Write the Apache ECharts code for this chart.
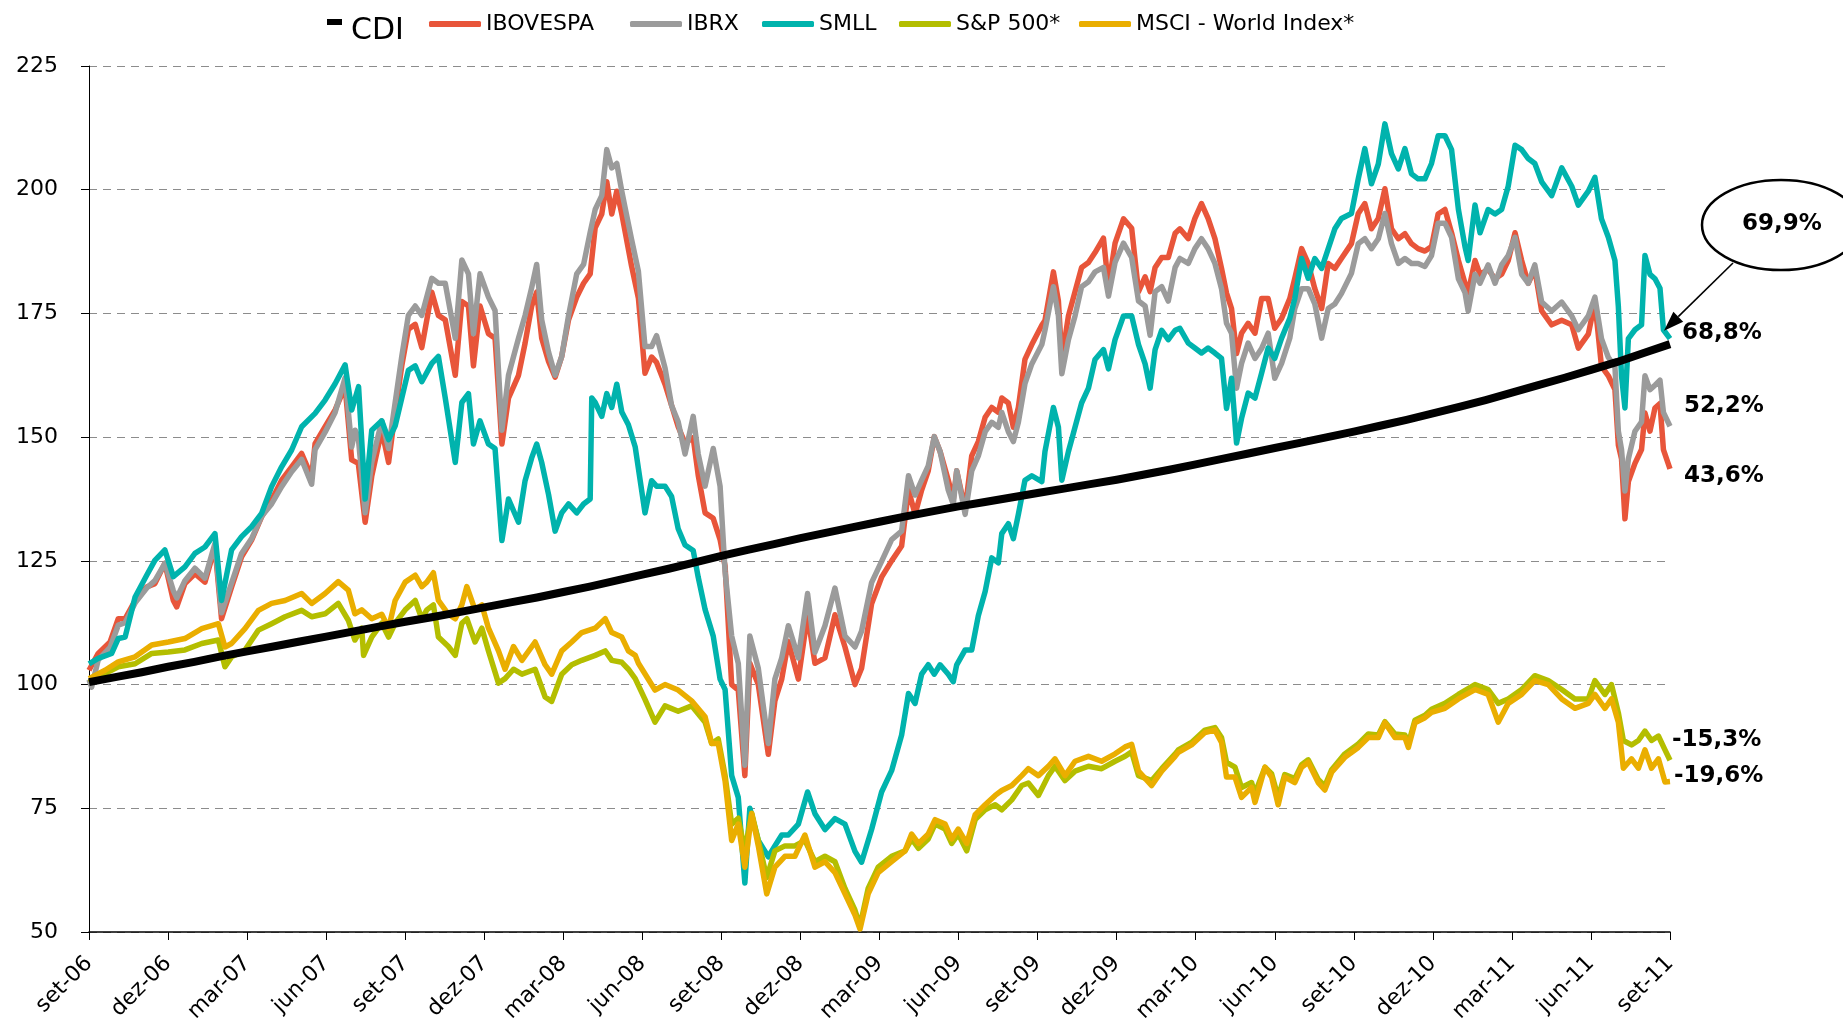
<!DOCTYPE html>
<html>
<head>
<meta charset="utf-8">
<title>CDI x Bolsas</title>
<script src="https://cdn.jsdelivr.net/npm/echarts@6/dist/echarts.min.js"></script>
<style>
  html, body { margin: 0; padding: 0; background: #fff; }
  #chart { width: 1843px; height: 1021px; }
</style>
</head>
<body>
<div id="chart"></div>
<script>
// rótulos do eixo x (um por trimestre)
const xLabels = ['set-06', 'dez-06', 'mar-07', 'jun-07', 'set-07', 'dez-07', 'mar-08', 'jun-08',
  'set-08', 'dez-08', 'mar-09', 'jun-09', 'set-09', 'dez-09', 'mar-10', 'jun-10',
  'set-10', 'dez-10', 'mar-11', 'jun-11', 'set-11'];

// CDI, um valor por mês desde set-06
const cdi = [100.5, 101.5, 102.5, 103.6, 104.6, 105.7, 106.7, 107.7, 108.7, 109.7,
  110.7, 111.7, 112.7, 113.6, 114.6, 115.6, 116.6, 117.6, 118.7, 119.8,
  121.0, 122.2, 123.4, 124.7, 126.0, 127.2, 128.4, 129.6, 130.7, 131.8,
  132.9, 134.0, 135.0, 136.0, 136.9, 137.8, 138.7, 139.6, 140.5, 141.4,
  142.4, 143.4, 144.5, 145.6, 146.7, 147.8, 148.9, 150.0, 151.1, 152.3,
  153.5, 154.8, 156.1, 157.5, 159.0, 160.5, 162.0, 163.6, 165.2, 167.0, 168.8];

// demais índices: [mês desde set-06, valor]
const ibovespa = [[0,102.9],[0.35,106.3],[0.8,108.6],[1.11,113.3],[1.37,113.3],[1.75,117],[2.19,119.7],[2.5,120.4],[2.88,124.5],[3.2,117],[3.33,115.7],[3.64,120.4],[4.02,122.4],[4.4,120.7],[4.78,127.8],[5.03,113.3],[5.41,119.7],[5.79,125.8],[6.17,129.2],[6.55,133.9],[6.93,137.3],[7.31,141.3],[7.69,144],[8.07,146.7],[8.45,142],[8.58,148.7],[8.96,152.1],[9.34,155.5],[9.72,160.2],[9.97,145.4],[10.22,144.7],[10.48,132.8],[10.73,142.1],[11.11,151.4],[11.37,144.9],[11.62,155.1],[11.87,164.4],[12.12,171.8],[12.38,172.8],[12.63,168.1],[13.01,179.3],[13.26,174.6],[13.52,173.7],[13.9,162.5],[14.15,177.4],[14.4,176.5],[14.59,164.4],[14.84,176.5],[15.16,170.9],[15.41,170],[15.67,148.6],[15.92,157.9],[16.3,162.5],[16.55,169],[16.8,176.5],[16.99,179.3],[17.18,170],[17.44,165.3],[17.69,162.1],[17.94,166.3],[18.2,173.7],[18.51,178.3],[18.77,181.1],[19.02,183],[19.21,192.3],[19.46,195.1],[19.65,201.6],[19.84,195.1],[20.03,199.7],[20.22,195.1],[20.59,184.6],[20.85,178.1],[21.1,162.9],[21.35,166.2],[21.54,165.1],[21.86,160.7],[22.11,156.4],[22.36,152.1],[22.62,148.8],[22.93,149.9],[23.12,142.3],[23.38,134.7],[23.69,133.6],[23.95,129.3],[24.14,123.9],[24.39,100],[24.64,98.9],[24.89,81.6],[25.08,104.3],[25.4,100],[25.78,85.9],[26.03,96.7],[26.29,101.1],[26.54,108.7],[26.92,101.1],[27.27,114.1],[27.55,104.3],[27.93,105.4],[28.31,114.1],[28.69,107.6],[29.07,100],[29.32,103.3],[29.7,116.3],[30.08,121.7],[30.46,125],[30.84,128],[31.1,139.3],[31.35,134.4],[31.6,139.3],[31.85,143.2],[32.08,150.1],[32.3,147.1],[32.61,141.3],[32.8,137.4],[32.93,143.2],[33.25,135.4],[33.5,146.2],[33.75,149.1],[34.01,154],[34.26,156],[34.51,155],[34.64,157.9],[34.89,156.9],[35.08,152],[35.27,156],[35.52,165.7],[35.78,168.7],[36.16,172.6],[36.28,173.6],[36.6,183.4],[36.79,177.5],[36.92,165.7],[37.17,174.5],[37.42,179.4],[37.67,184.3],[37.93,185.3],[38.18,187.3],[38.5,190.2],[38.69,180.4],[38.94,189.2],[39.26,194.1],[39.57,192.2],[39.83,179.4],[40.08,182.4],[40.27,179.4],[40.46,184.3],[40.71,186.3],[40.96,186.3],[41.22,191.2],[41.4,192.1],[41.72,190.1],[41.97,194.2],[42.22,197.2],[42.47,194.2],[42.73,190.1],[42.98,184.1],[43.17,179.1],[43.36,176],[43.55,166.9],[43.74,171],[43.99,173],[44.25,171],[44.5,178],[44.75,178],[45,172],[45.26,174],[45.57,178],[45.76,182.1],[46.02,188.1],[46.27,185.1],[46.52,180],[46.78,176],[47.03,185.1],[47.28,184.1],[47.53,186.1],[47.91,189.1],[48.17,195.2],[48.42,197.2],[48.67,192.1],[48.93,194.2],[49.18,200.2],[49.43,192.1],[49.69,190.1],[49.94,191.1],[50.19,189.1],[50.44,188.1],[50.7,187.6],[50.95,188.5],[51.2,195.1],[51.46,196],[51.71,191.3],[51.97,185.7],[52.22,181.1],[52.34,179.2],[52.6,185.7],[52.79,182.9],[53.1,183.9],[53.36,182],[53.61,182.9],[53.86,185.7],[54.12,191.3],[54.37,185.7],[54.62,181.1],[54.87,183.9],[55.13,175.5],[55.51,172.7],[55.89,173.6],[56.27,172.7],[56.52,168],[56.9,170.8],[57.15,177.3],[57.4,164.3],[57.66,162.4],[57.91,159.6],[58.04,148.4],[58.16,145.6],[58.29,133.5],[58.42,141],[58.67,144.7],[58.92,147.5],[59.05,154.9],[59.24,151.2],[59.43,155.9],[59.62,156.8],[59.75,147.5],[60,143.6]];

const ibrx = [[0,101],[0.1,99.5],[0.35,105],[0.8,107.5],[1.11,112],[1.37,112.5],[1.75,116.5],[2.19,119.5],[2.5,121],[2.88,124.5],[3.2,119],[3.33,117.5],[3.64,121],[4.02,123.5],[4.4,121.5],[4.78,128.5],[5.03,114.5],[5.41,120.5],[5.79,126.5],[6.17,129.5],[6.55,134],[6.93,136.5],[7.31,140],[7.69,143],[8.07,145.5],[8.45,140.5],[8.58,147.5],[8.96,151],[9.34,155],[9.72,162],[9.97,148],[10.1,151.4],[10.22,150],[10.48,134.7],[10.73,144.9],[11.11,153.3],[11.37,147.7],[11.62,157],[11.87,166.3],[12.12,174.6],[12.38,176.5],[12.63,174.6],[13.01,182.1],[13.26,181.1],[13.52,181.1],[13.9,170],[14.15,185.8],[14.4,183],[14.59,170.9],[14.84,183],[15.16,178.3],[15.41,175.6],[15.67,151.4],[15.92,162.5],[16.3,170],[16.55,174.6],[16.8,180.2],[16.99,184.9],[17.18,173.7],[17.44,167.2],[17.69,162.5],[17.94,166.3],[18.2,174.6],[18.51,183],[18.77,184.9],[19.02,191.4],[19.21,196],[19.46,198.8],[19.65,208.1],[19.84,204.4],[20.03,205.3],[20.22,199.7],[20.34,196.5],[20.59,190],[20.85,183.5],[21.1,168.3],[21.35,168.3],[21.54,170.5],[21.86,164],[22.11,156.4],[22.36,153.1],[22.62,146.6],[22.93,154.2],[23.12,146.6],[23.38,140.1],[23.69,147.7],[23.95,140.1],[24.14,122.8],[24.39,109.8],[24.64,104.3],[24.89,83.7],[25.08,109.8],[25.4,103.3],[25.78,88.1],[26.03,101.1],[26.29,105.4],[26.54,111.9],[26.92,105.4],[27.27,118.4],[27.55,106.5],[27.93,111.9],[28.31,119.5],[28.69,109.8],[29.07,107.6],[29.32,110.8],[29.7,120.6],[30.08,124.9],[30.46,129.3],[30.84,131],[31.1,142.2],[31.35,138.3],[31.6,141.3],[31.85,144.2],[32.08,150.1],[32.3,147.1],[32.61,139.3],[32.8,136.4],[32.93,143.2],[33.25,134.4],[33.5,143.2],[33.75,146.2],[34.01,151.1],[34.26,153],[34.51,152],[34.64,155],[34.89,151.1],[35.08,149.1],[35.27,153],[35.52,160.8],[35.78,164.8],[36.16,168.7],[36.28,171.6],[36.6,180.4],[36.79,174.5],[36.92,162.8],[37.17,169.7],[37.42,174.5],[37.67,180.4],[37.93,181.4],[38.18,183.4],[38.5,184.3],[38.69,178.5],[38.94,185.3],[39.26,189.2],[39.57,186.3],[39.83,177.5],[40.08,176.5],[40.27,170.6],[40.46,179.4],[40.71,180.4],[40.96,177.5],[41.22,184.3],[41.4,186.1],[41.72,185.1],[41.97,188.1],[42.22,190.1],[42.47,188.1],[42.73,185.1],[42.98,180],[43.17,173],[43.36,171],[43.55,159.9],[43.74,164.9],[43.99,169],[44.25,165.9],[44.5,167.9],[44.75,171],[45,161.9],[45.26,164.9],[45.57,170],[45.76,176],[46.02,180],[46.27,180],[46.52,176.9],[46.78,170],[47.03,176],[47.28,176.9],[47.53,179],[47.91,183.1],[48.17,189.1],[48.42,190.1],[48.67,188.1],[48.93,190.1],[49.18,195.2],[49.43,189.1],[49.69,185.1],[49.94,186.1],[50.19,185.1],[50.44,185.1],[50.7,184.5],[50.95,186.7],[51.2,193.2],[51.46,193.2],[51.71,190.4],[51.97,182],[52.22,179.2],[52.34,175.5],[52.6,182.9],[52.79,181.1],[53.1,184.8],[53.36,181.1],[53.61,184.8],[53.86,186.7],[54.12,190.4],[54.37,182.9],[54.62,181.1],[54.87,184.8],[55.13,177.3],[55.51,175.5],[55.89,177.3],[56.27,174.5],[56.52,171.7],[56.9,174.5],[57.15,178.3],[57.4,169.9],[57.66,166.1],[57.91,164.3],[58.04,151.2],[58.16,147.5],[58.29,139.1],[58.42,145.6],[58.67,151.2],[58.92,153.1],[59.05,162.4],[59.24,159.6],[59.43,160.5],[59.62,161.5],[59.75,155],[60,152.2]];

const smll = [[0,104.2],[0.35,105.3],[0.86,106.3],[1.11,109.3],[1.37,109.6],[1.75,117.7],[2.19,122.1],[2.5,125.1],[2.88,127.2],[3.2,121.8],[3.64,123.8],[4.02,126.5],[4.4,127.8],[4.78,130.5],[5.03,117],[5.41,127.2],[5.79,129.9],[6.17,131.9],[6.55,134.6],[6.93,140],[7.31,144],[7.69,147.4],[8.07,152.1],[8.58,154.8],[8.96,157.5],[9.34,160.8],[9.72,164.6],[9.97,155.5],[10.23,160.2],[10.48,137.5],[10.73,151.4],[11.11,153.3],[11.37,149.5],[11.62,152.3],[11.87,157.9],[12.12,163.5],[12.38,164.4],[12.63,161.2],[13.01,164.9],[13.26,166.3],[13.52,157.9],[13.9,144.9],[14.15,157],[14.4,158.8],[14.59,148.6],[14.84,153.3],[15.16,148.6],[15.41,147.7],[15.67,129.1],[15.92,137.5],[16.3,132.8],[16.55,141.2],[16.8,145.8],[16.99,148.6],[17.18,144.9],[17.44,138.4],[17.69,131],[17.94,134.7],[18.2,136.5],[18.51,134.7],[18.77,136.5],[19.02,137.5],[19.08,157.9],[19.21,157],[19.46,154.2],[19.65,158.8],[19.84,156],[20.03,160.7],[20.22,155.1],[20.47,152.5],[20.73,148],[21.1,134.7],[21.35,141.2],[21.54,140.1],[21.86,140.1],[22.11,138],[22.36,131.5],[22.62,128.2],[22.93,127.1],[23.12,121.7],[23.38,115.2],[23.69,109.8],[23.95,101.1],[24.14,99],[24.39,81.6],[24.64,77.2],[24.89,59.9],[25.08,75],[25.4,68.5],[25.78,65.2],[26.03,67.4],[26.29,69.6],[26.54,69.6],[26.92,71.8],[27.27,78.3],[27.55,73.9],[27.93,70.7],[28.31,72.9],[28.69,71.8],[29.07,66.3],[29.32,64.1],[29.7,70.7],[30.08,78.3],[30.46,82.6],[30.84,89.8],[31.1,98.2],[31.35,96.2],[31.6,102.1],[31.85,104],[32.08,102.1],[32.3,104],[32.61,102.1],[32.8,100.6],[32.93,104],[33.25,107],[33.5,107],[33.75,113.9],[34.01,118.8],[34.26,125.6],[34.51,124.6],[34.64,130.5],[34.89,132.5],[35.08,129.5],[35.27,134.4],[35.52,141.3],[35.78,142.2],[36.16,141],[36.28,147.1],[36.6,156],[36.79,152],[36.92,141.3],[37.17,147.1],[37.42,152],[37.67,156.9],[37.93,159.9],[38.18,165.7],[38.5,167.7],[38.69,163.8],[38.94,169.7],[39.26,174.5],[39.57,174.5],[39.83,168.7],[40.08,164.8],[40.27,159.9],[40.46,167.7],[40.71,171.6],[40.96,169.7],[41.22,171.6],[41.4,172],[41.72,169],[41.97,168],[42.22,167],[42.47,168],[42.73,167],[42.98,165.9],[43.17,155.8],[43.36,161.9],[43.55,148.8],[43.74,153.8],[43.99,158.9],[44.25,157.9],[44.5,162.9],[44.75,168],[45,165.9],[45.26,170],[45.57,174],[45.76,178],[46.02,186.1],[46.27,182.1],[46.52,186.1],[46.78,184.1],[47.03,188.1],[47.28,192.1],[47.53,194.2],[47.91,195.2],[48.17,202.2],[48.42,208.3],[48.67,201.2],[48.93,205.2],[49.18,213.3],[49.43,207.3],[49.69,204.2],[49.94,208.3],[50.19,203.2],[50.44,202.2],[50.7,202.2],[50.95,205.3],[51.2,210.9],[51.46,210.9],[51.71,208.1],[51.97,196],[52.22,188.5],[52.34,185.7],[52.6,196.9],[52.79,191.3],[53.1,196],[53.36,195.1],[53.61,196],[53.86,200.7],[54.12,209],[54.37,208.1],[54.62,206.3],[54.87,205.3],[55.13,201.6],[55.51,198.8],[55.89,204.4],[56.27,200.7],[56.52,196.9],[56.9,199.7],[57.15,202.5],[57.4,194.1],[57.66,190.4],[57.91,185.7],[58.04,176.4],[58.16,162.4],[58.29,155.9],[58.42,169.9],[58.67,171.7],[58.92,172.7],[59.05,186.7],[59.24,182.9],[59.43,182],[59.62,180.1],[59.75,171.7],[60,169.9]];

const sp500 = [[0,100.5],[0.61,102.2],[1.11,103.6],[1.75,104.2],[2.38,106.3],[3.01,106.6],[3.64,107],[4.28,108.3],[4.91,109],[5.16,103.6],[5.41,105.6],[5.92,107],[6.43,111],[6.93,112.3],[7.44,113.7],[8.07,115],[8.45,113.7],[8.96,114.3],[9.46,116.4],[9.84,113],[10.09,109],[10.35,111.4],[10.42,105.9],[10.73,109.6],[11.11,112.4],[11.37,109.6],[11.62,112.4],[12,115.1],[12.38,117],[12.63,113.3],[12.82,115.1],[13.07,116.1],[13.26,109.6],[13.64,107.7],[13.9,105.9],[14.15,112.4],[14.34,113.3],[14.65,108.6],[14.91,111.4],[15.16,106.8],[15.54,100.3],[15.79,101.2],[16.11,103.1],[16.43,102.1],[16.93,103.1],[17.31,97.5],[17.56,96.6],[17.94,102.1],[18.32,104],[18.7,104.9],[19.21,105.9],[19.59,106.8],[19.84,104.9],[20.22,104.5],[20.47,103.1],[20.73,101.2],[21.1,97],[21.48,92.4],[21.86,95.7],[22.36,94.6],[22.87,95.7],[23.38,92.4],[23.63,88.1],[23.88,89],[24.14,81.6],[24.39,71.8],[24.64,73],[24.89,66.4],[25.15,74],[25.4,68.5],[25.72,61],[26.03,66.4],[26.41,67.4],[26.79,67.4],[27.17,68.5],[27.55,64.2],[27.93,65.3],[28.31,64.2],[28.69,58.8],[29.07,54.4],[29.26,51.2],[29.57,58.8],[29.95,63.1],[30.46,65.3],[30.97,66.4],[31.22,68.8],[31.48,66.9],[31.85,68.8],[32.11,71.8],[32.49,70.8],[32.74,67.9],[32.99,69.8],[33.31,66.4],[33.63,72.7],[34.01,74.7],[34.39,75.7],[34.64,74.7],[35.02,76.7],[35.4,79.6],[35.65,80.1],[36.03,77.6],[36.41,81.6],[36.66,83.5],[37.04,80.6],[37.42,82.5],[37.93,83.5],[38.43,83],[38.94,84.5],[39.32,85.5],[39.57,86.4],[39.83,81.6],[40.33,80.6],[40.71,83],[41.22,86],[41.34,86.8],[41.84,88.3],[42.35,90.8],[42.73,91.3],[42.98,89.3],[43.17,84.3],[43.49,83.3],[43.74,79.2],[44.12,80.2],[44.25,78],[44.63,83.3],[44.88,82],[45.13,77.2],[45.38,81.8],[45.76,81],[46.02,83.8],[46.27,84.8],[46.65,80.8],[46.9,79.5],[47.16,82.8],[47.66,86],[48.17,88],[48.55,90],[48.93,89.8],[49.18,92.5],[49.56,90],[49.94,89.8],[50.07,88],[50.32,92.8],[50.7,93.8],[50.95,95],[51.46,96.2],[51.97,98],[52.6,100],[53.1,99],[53.48,96.2],[53.86,97.1],[54.37,99],[54.87,101.8],[55.38,100.8],[55.89,99],[56.39,97.1],[56.9,97.1],[57.15,100.8],[57.53,98],[57.78,100],[58.04,94.3],[58.23,88.7],[58.54,87.8],[58.8,88.7],[59.05,90.6],[59.3,88.7],[59.56,89.6],[59.81,86.8],[60,84.7]];

const msci = [[0,101.2],[0.61,102.9],[1.11,104.6],[1.75,105.6],[2.38,108],[3.01,108.6],[3.64,109.3],[4.28,111.3],[4.91,112.3],[5.16,107.6],[5.41,108.3],[5.92,111.3],[6.43,115],[6.93,116.4],[7.44,117],[8.07,118.4],[8.45,116.4],[8.96,118.4],[9.46,120.8],[9.84,119.1],[10.09,114.3],[10.35,115.1],[10.73,113.3],[11.11,114.2],[11.37,111.4],[11.62,117],[12,120.7],[12.38,122.1],[12.63,119.8],[12.82,120.7],[13.07,122.6],[13.26,117],[13.64,114.2],[13.9,113.3],[14.15,116.1],[14.34,119.8],[14.65,115.1],[14.91,116.1],[15.16,111.4],[15.54,106.8],[15.79,103.1],[16.11,107.7],[16.43,104.9],[16.93,108.6],[17.31,104],[17.56,102.1],[17.94,106.8],[18.32,108.6],[18.7,110.5],[19.21,111.4],[19.59,113.3],[19.84,110.5],[20.22,109.6],[20.47,106.8],[20.73,105.9],[20.85,104.3],[21.48,98.9],[21.86,100],[22.36,98.9],[22.87,96.7],[23.38,93.5],[23.63,88.1],[23.88,88.1],[24.14,80.5],[24.39,68.5],[24.64,71.8],[24.89,63.1],[25.15,73.9],[25.4,67.4],[25.72,57.7],[26.03,63.1],[26.41,65.3],[26.79,65.3],[27.17,69.6],[27.55,63.1],[27.93,64.2],[28.31,62],[28.69,57.7],[29.07,53.4],[29.26,50.6],[29.57,57.7],[29.95,62],[30.46,64.2],[30.97,66.4],[31.22,69.8],[31.48,67.9],[31.85,69.8],[32.11,72.7],[32.49,71.8],[32.74,68.8],[32.99,70.8],[33.31,67.9],[33.63,73.7],[34.01,75.7],[34.39,77.6],[34.64,78.6],[35.02,79.6],[35.4,81.6],[35.65,83],[36.03,81.6],[36.41,83.5],[36.66,85],[37.04,81.6],[37.42,84.5],[37.93,85.5],[38.43,84.5],[38.94,86],[39.32,87.4],[39.57,87.9],[39.83,82.5],[40.33,79.6],[40.71,82.5],[41.22,85.5],[41.34,86.3],[41.84,87.8],[42.35,90.3],[42.73,90.8],[42.98,88.3],[43.17,81.3],[43.49,81.3],[43.74,77.2],[44.12,79.2],[44.25,76.2],[44.63,83.3],[44.88,81.3],[45.13,75.7],[45.38,81.3],[45.76,80.2],[46.02,83.3],[46.27,84.3],[46.65,80.2],[46.9,78.7],[47.16,82.3],[47.66,85.3],[48.17,87.3],[48.55,89.3],[48.93,89.3],[49.18,92.3],[49.56,89.3],[49.94,89.3],[50.07,87.3],[50.32,92.3],[50.7,93.3],[50.95,94.4],[51.46,95.2],[51.97,97.1],[52.6,99],[53.1,98],[53.48,92.4],[53.86,96.2],[54.37,98],[54.87,100.8],[55.38,100],[55.89,97.1],[56.39,95.2],[56.9,96.2],[57.15,98],[57.53,95.2],[57.78,97.1],[58.04,92.4],[58.23,83.1],[58.54,85],[58.8,83.1],[59.05,86.8],[59.3,83.1],[59.56,85],[59.81,80.3],[60,80.4]];

const FONT = 'DejaVu Sans';
const chart = echarts.init(document.getElementById('chart'));

// variação acumulada com vírgula decimal
const pct = (v) => (v - 100).toFixed(1).replace('.', ',') + '%';

const endLabel = (offset) => ({
  show: true,
  distance: 0,
  offset: offset,
  formatter: (p) => pct(p.value[1]),
  color: '#000',
  fontFamily: FONT,
  fontWeight: 'bold',
  fontSize: 23,
});

const lineSeries = (name, data, color, width, label) => ({
  name: name,
  type: 'line',
  data: data,
  showSymbol: false,
  symbol: 'none',
  color: color,
  lineStyle: { color: color, width: width, join: 'round' },
  endLabel: label,
  emphasis: { disabled: true },
});

const legendItem = (name, left, top, icon, w, h, fontSize, pad) => ({
  data: [name],
  left: left,
  top: top,
  padding: 0,
  icon: icon,
  itemWidth: w,
  itemHeight: h,
  symbolKeepAspect: false,
  selectedMode: false,
  textStyle: { fontFamily: FONT, fontSize: fontSize, color: '#000', padding: pad || 0 },
});

// marcador do CDI: retângulo no alto, ponto invisível embaixo para baixar o texto
const cdiIcon = 'path://M0,0h15v6h-15zM0,24h0.01v0.01h-0.01z';

chart.setOption({
  animation: false,
  backgroundColor: '#fff',
  grid: { left: 89, right: 173, top: 66, bottom: 89, containLabel: false, outerBoundsMode: 'none' },
  legend: [
    legendItem('CDI', 327, 16, cdiIcon, 15, 24, 30, [0, 0, 0, 4]),
    legendItem('IBOVESPA', 429, 13, 'roundRect', 52, 6, 22),
    legendItem('IBRX', 630, 13, 'roundRect', 52, 6, 22),
    legendItem('SMLL', 762, 13, 'roundRect', 52, 6, 22),
    legendItem('S&P 500*', 899, 13, 'roundRect', 52, 6, 22),
    legendItem('MSCI - World Index*', 1079, 13, 'roundRect', 52, 6, 22),
  ],
  xAxis: {
    type: 'value',
    min: 0,
    max: 60,
    interval: 3,
    axisLine: { show: true, lineStyle: { color: '#000', width: 1.5 } },
    axisTick: { show: true, length: 8, lineStyle: { color: '#000' } },
    splitLine: { show: false },
    axisLabel: {
      rotate: 45,
      margin: 28,
      color: '#000',
      fontFamily: FONT,
      fontSize: 22,
      formatter: (v) => xLabels[Math.round(v / 3)],
    },
  },
  yAxis: {
    type: 'value',
    min: 50,
    max: 225,
    interval: 25,
    axisLine: { show: true, lineStyle: { color: '#000', width: 1 } },
    axisTick: { show: true, length: 8, lineStyle: { color: '#000' } },
    axisLabel: { margin: 31, color: '#000', fontFamily: FONT, fontSize: 22 },
    splitLine: { show: true, lineStyle: { color: '#8c8c8c', width: 1, type: [8, 6] } },
  },
  series: [
    lineSeries('IBOVESPA', ibovespa, '#E8553A', 5.5, endLabel([14, 7])),
    lineSeries('IBRX', ibrx, '#9B9B9B', 5.5, endLabel([14, -20])),
    lineSeries('SMLL', smll, '#00B3AD', 5.5, { show: false }),
    lineSeries('S&P 500*', sp500, '#B4BE00', 5.5, endLabel([2, -20])),
    lineSeries('MSCI - World Index*', msci, '#EAAE00', 5.5, endLabel([4, -6])),
    lineSeries('CDI', cdi.map((v, i) => [i, v]), '#000000', 8, endLabel([12, -11])),
  ],
});

// balão com a variação do SMLL e seta apontando para o fim da série
const last = smll[smll.length - 1];
const endPx = chart.convertToPixel({ gridIndex: 0 }, last);
const start = [1733, 263];
const tip = [endPx[0] - 6, endPx[1] - 8];
const dx = tip[0] - start[0];
const dy = tip[1] - start[1];
const len = Math.sqrt(dx * dx + dy * dy);
const ux = dx / len;
const uy = dy / len;
const headLen = 20;
const headHalf = 7;
const base = [tip[0] - ux * headLen, tip[1] - uy * headLen];

chart.setOption({
  graphic: [
    {
      type: 'line',
      shape: { x1: start[0], y1: start[1], x2: base[0], y2: base[1] },
      style: { stroke: '#000', lineWidth: 1.6 },
      z: 100,
    },
    {
      type: 'polygon',
      shape: {
        points: [
          tip,
          [base[0] - uy * headHalf, base[1] + ux * headHalf],
          [base[0] + uy * headHalf, base[1] - ux * headHalf],
        ],
      },
      style: { fill: '#000' },
      z: 100,
    },
    {
      type: 'ellipse',
      shape: { cx: 1781, cy: 225, rx: 79, ry: 45 },
      style: { fill: '#fff', stroke: '#000', lineWidth: 2.5 },
      z: 100,
    },
    {
      type: 'text',
      x: 1782,
      y: 224,
      style: {
        text: pct(last[1]),
        fill: '#000',
        font: 'bold 23px "DejaVu Sans"',
        align: 'center',
        verticalAlign: 'middle',
      },
      z: 101,
    },
  ],
});
</script>
</body>
</html>
